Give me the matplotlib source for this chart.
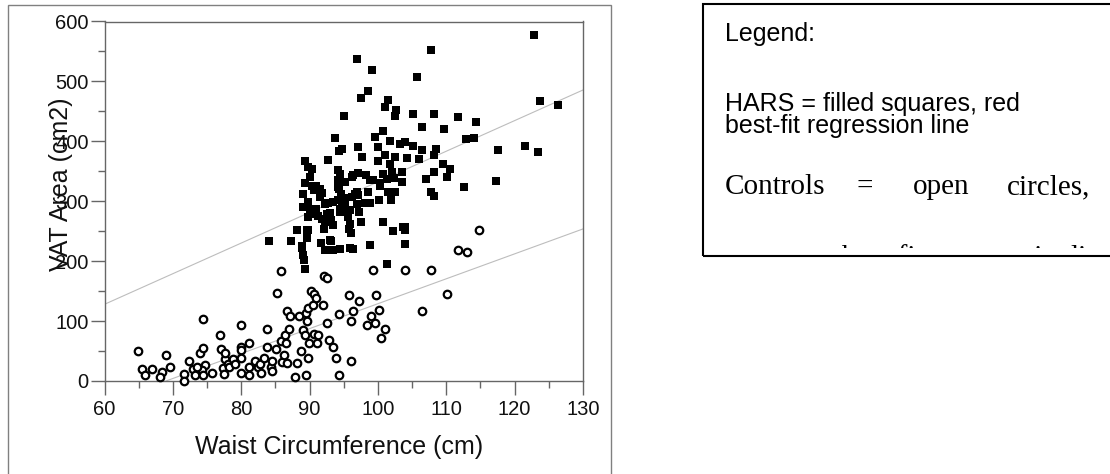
import numpy as np
import matplotlib
matplotlib.use("Agg")
import matplotlib.pyplot as plt
from matplotlib.patches import Rectangle
from matplotlib.transforms import Bbox, TransformedBbox

# HARS (filled squares): waist (cm), VAT area (cm2)
hars_waist = [84.1, 88.1, 87.3, 88.9, 89.0, 89.2, 89.3, 89.6, 89.6, 89.3, 89.7, 90.3, 89.3, 89.0,
              90.0, 90.3, 90.6, 90.9, 91.5, 89.7, 89.1, 90.0, 90.6, 91.2, 91.8, 92.3, 90.9, 89.7,
              91.8, 91.5, 92.3, 92.6, 92.9, 93.2, 93.5, 92.1, 91.7, 92.2, 93.0, 93.1, 93.5, 94.4,
              92.7, 93.7, 94.3, 94.7, 95.1, 94.2, 94.5, 94.2, 94.3, 94.6, 94.7, 94.5, 95.2, 95.5,
              95.6, 95.9, 96.1, 95.8, 96.4, 96.6, 96.9, 96.9, 97.2, 97.5, 96.4, 96.9, 97.1, 97.5,
              97.7, 98.3, 98.9, 98.6, 99.2, 98.9, 99.6, 100.0, 100.0, 100.3, 100.1, 100.7, 101.0,
              101.5, 101.8, 101.0, 101.8, 100.7, 101.3, 100.7, 101.3, 102.5, 102.1, 102.5, 101.9,
              102.2, 102.5, 102.7, 103.3, 103.5, 103.5, 103.6, 103.9, 103.9, 103.9, 104.2, 105.1,
              105.1, 105.7, 106.0, 106.5, 106.5, 107.1, 107.7, 107.7, 108.2, 108.2, 108.2, 108.5,
              108.2, 109.7, 109.5, 110.1, 110.5, 111.7, 112.6, 112.9, 114.0, 114.3, 117.2, 117.5,
              121.5, 122.8, 123.4, 123.7, 126.3,
              92.7, 93.5, 94.2, 95.2, 96.2, 97.1, 98.6, 93.0, 94.4, 95.9, 98.1, 94.2, 95.2, 96.2,
              97.1, 99.3, 100.3, 102.3, 101.5, 104.0, 98.8, 95.9, 93.0, 88.9, 89.8]
hars_vat = [233.6, 252.5, 233.6, 224.7, 210.8, 202.4, 186.9, 252.5, 239.0, 368.0, 357.0, 354.0,
            330.0, 312.5, 340.0, 326.0, 318.0, 326.0, 321.0, 298.6, 290.0, 284.7, 279.0, 274.7,
            271.0, 265.0, 287.0, 273.6, 313.6, 307.0, 296.0, 279.0, 279.0, 268.0, 259.7, 254.0,
            230.0, 219.0, 218.0, 233.6, 219.0, 220.8, 369.0, 406.0, 383.7, 386.5, 443.0, 352.6,
            346.0, 335.0, 321.0, 312.5, 298.6, 287.5, 293.0, 282.0, 273.6, 262.5, 247.0, 254.0,
            343.0, 312.5, 315.7, 296.0, 282.0, 265.0, 220.8, 537.7, 390.0, 472.0, 373.7, 343.0,
            335.0, 483.8, 519.0, 297.0, 407.0, 390.0, 368.0, 326.0, 302.5, 417.0, 457.0, 469.0,
            401.0, 376.5, 362.6, 346.0, 337.6, 265.0, 195.7, 373.7, 348.7, 315.3, 301.4, 250.0,
            443.0, 452.5, 396.0, 348.7, 332.0, 257.0, 251.3, 229.0, 398.7, 372.6, 446.0, 393.0,
            507.0, 370.7, 423.7, 384.8, 337.6, 552.8, 315.3, 308.0, 446.0, 378.0, 387.6, 348.7,
            421.0, 362.6, 340.0, 354.0, 440.5, 323.6, 403.6, 406.0, 431.5, 333.0, 386.0, 393.0,
            576.7, 383.0, 466.6, 460.0,
            296.6, 299.0, 302.0, 305.0, 307.6, 310.0, 316.0, 280.0, 282.6, 285.0, 296.6, 324.0,
            332.6, 341.0, 346.6, 335.5, 330.0, 338.0, 316.0, 257.5, 227.0, 221.5, 235.0, 221.5,
            252.0]

# Controls (open circles)
ctrl_waist = [64.9, 65.5, 65.9, 66.9, 68.4, 68.1, 69.0, 69.6, 71.6, 71.6, 72.4, 73.0, 73.3, 73.9,
              74.4, 74.4, 74.7, 74.2, 73.6, 74.4, 75.7, 76.9, 77.0, 77.3, 77.5, 77.6, 77.7, 78.1,
              78.2, 78.8, 79.1, 80.0, 80.0, 80.0, 80.0, 80.0, 81.2, 81.2, 81.2, 82.0, 82.4, 82.8,
              82.9, 83.4, 83.8, 83.8, 84.3, 84.5, 84.5, 85.1, 85.3, 85.8, 85.8, 86.0, 86.3, 86.4,
              86.6, 86.7, 86.7, 87.0, 87.1, 87.9, 88.1, 88.5, 88.8, 89.0, 89.3, 89.5, 89.5, 89.6,
              89.7, 89.7, 89.9, 90.2, 90.5, 90.6, 90.7, 90.9, 91.1, 91.2, 92.0, 92.1, 92.5, 92.6,
              92.8, 93.4, 93.9, 94.3, 94.3, 95.8, 96.0, 96.1, 96.4, 97.3, 98.4, 99.0, 99.3, 99.5,
              99.7, 100.1, 100.4, 101.0, 103.9, 106.5, 107.8, 110.1, 111.7, 113.0, 114.8]
ctrl_vat = [50.0, 19.5, 9.5, 19.5, 15.0, 6.7, 44.0, 23.0, 11.0, 0.0, 33.0, 20.6, 9.5, 47.0, 55.0,
            104.0, 26.0, 17.8, 24.0, 9.5, 14.0, 77.0, 54.0, 21.7, 12.0, 37.0, 47.0, 29.0, 23.0,
            36.0, 29.0, 57.0, 52.0, 13.0, 94.0, 39.0, 63.0, 23.0, 9.5, 34.0, 23.0, 29.0, 13.0,
            39.0, 86.0, 57.0, 23.0, 33.0, 16.0, 54.0, 147.0, 183.5, 67.0, 32.0, 44.0, 77.0, 63.0,
            30.0, 117.0, 86.0, 108.0, 6.7, 30.0, 108.0, 50.0, 84.5, 77.0, 9.5, 113.0, 99.5, 122.0,
            39.0, 63.0, 150.0, 127.0, 79.0, 146.0, 138.0, 63.0, 76.0, 127.0, 175.0, 172.0, 97.0,
            69.0, 56.0, 39.0, 111.0, 9.5, 143.0, 99.5, 33.0, 117.0, 133.0, 93.0, 108.0, 186.0,
            97.0, 143.0, 119.0, 72.0, 86.0, 186.0, 117.0, 186.0, 146.0, 219.0, 215.0, 252.5]

# best-fit lines: (slope, intercept)
hars_fit = (5.11, -178.6)
ctrl_fit = (4.16, -287.0)

xticks = [60, 70, 80, 90, 100, 110, 120, 130]
yticks = [0, 100, 200, 300, 400, 500, 600]

plt.rcParams["font.family"] = ["Liberation Sans", "DejaVu Sans"]

W, H = 1110, 474
fig = plt.figure(figsize=(W / 100, H / 100), dpi=100)
ax = fig.add_axes([104.5 / W, (H - 381) / H, 478.5 / W, 359.5 / H])

ax.axline((0, hars_fit[1]), slope=hars_fit[0], color="#bdbdbd", lw=0.8, zorder=1)
ax.axline((0, ctrl_fit[1]), slope=ctrl_fit[0], color="#bdbdbd", lw=0.8, zorder=1)

ax.plot(hars_waist, hars_vat, ls="none", marker="s", ms=6.2, mfc="black", mec="black",
        mew=0, clip_on=False, zorder=3)
ax.plot(ctrl_waist, ctrl_vat, ls="none", marker="o", ms=5.4, mfc="white", mec="black",
        mew=1.6, clip_on=False, zorder=3)

ax.set_xlim(60, 130)
ax.set_ylim(0, 600)
ax.set_xticks(xticks)
ax.set_yticks(yticks)
ax.set_xticks(np.arange(65, 130, 10), minor=True)
ax.set_yticks(np.arange(50, 600, 100), minor=True)
ax.tick_params(which="major", direction="out", length=10, width=1, color="#666666",
               labelsize=14.5, labelcolor="#111111")
ax.tick_params(axis="y", which="major", pad=1.5)
ax.tick_params(axis="x", which="major", pad=4)
ax.tick_params(which="minor", direction="out", length=5, width=1, color="#666666")
for s in ax.spines.values():
    s.set_color("#666666")
    s.set_linewidth(1.0)

ax.set_xlabel("Waist Circumference (cm)", fontsize=18, va="center", color="#111111")
ax.xaxis.set_label_coords(0.491, -0.184)
ax.set_ylabel("VAT Area (cm2)", fontsize=18, va="center", color="#111111")
ax.yaxis.set_label_coords(-0.09, 0.547)

# outer frame around the chart
fig.add_artist(Rectangle((8 / W, -0.05), 603 / W, (H - 5) / H + 0.05, transform=fig.transFigure,
                         fill=False, ec="#808080", lw=1.0, clip_on=False))

# legend box
fig.add_artist(Rectangle((703 / W, (H - 255.5) / H), 412 / W, 252 / H, transform=fig.transFigure,
                         fill=False, ec="black", lw=1.5, clip_on=False))


def ftext(x, y, s, **kw):
    return fig.text(x / W, (H - y) / H, s, va="baseline", ha="left", **kw)


ftext(725, 41, "Legend:", fontsize=18)
ftext(725, 111, "HARS = filled squares, red", fontsize=18)
ftext(725, 133, "best-fit regression line", fontsize=18)
serif = ["Liberation Serif", "DejaVu Serif"]
for x, w in [(725, "Controls"), (857, "="), (913, "open"), (1007, "circles,")]:
    ftext(x, 194, w, fontsize=21, family=serif)
clip = TransformedBbox(Bbox([[703 / W, (H - 248) / H], [1, 1]]), fig.transFigure)
for x, w in [(725, "grey"), (842, "best-fit"), (952, "regression"), (1070, "line")]:
    t = ftext(x, 265, w, fontsize=21, family=serif)
    t.set_clip_box(clip)
    t.set_clip_on(True)

fig.savefig("out.png", dpi=100)
